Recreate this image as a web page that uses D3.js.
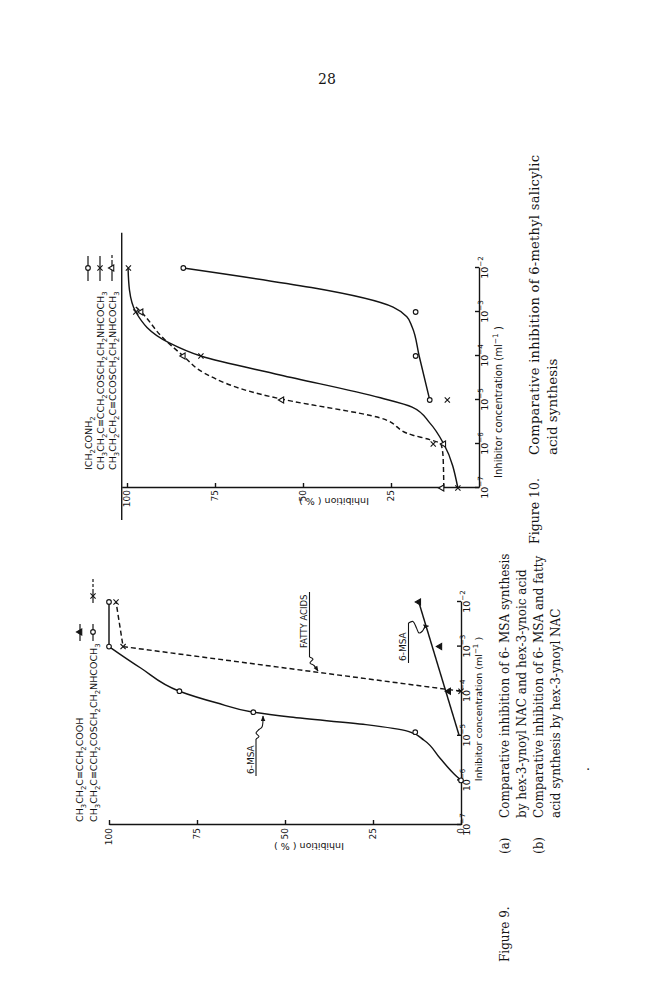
<!DOCTYPE html>
<html><head><meta charset="utf-8">
<script src="https://cdn.jsdelivr.net/npm/d3@7"></script>
<style>
html,body{margin:0;padding:0;background:#fff;}
svg{display:block;}
</style></head><body>
<svg id="page" width="666" height="1000"></svg>
<script>
// ================= DATA =================
// concentration given as log10(mol l^-1); inhibition in %
const decades = [-7, -6, -5, -4, -3, -2];
const inhibTicks9 = [0, 25, 50, 75, 100];
const inhibTicks10 = [25, 50, 75, 100];

// Figure 9
const fig9Legend = ["CH3CH2C≡CCH2COOH", "CH3CH2C≡CCH2COSCH2CH2NHCOCH3"];
const fig9NacMsaPts   = [[-6, 0], [-4.92, 13], [-4.47, 59], [-4, 80], [-3, 100], [-2, 100]];
const fig9NacMsaCurve = [[-6, 0], [-5.83, 2.3], [-5.5, 6], [-5.1, 10.5], [-4.9, 15], [-4.75, 27], [-4.58, 48.5], [-4.47, 59], [-4.26, 69.5], [-4, 80], [-3.48, 91], [-3, 100]];
const fig9NacMsaTop   = [[-3, 100], [-2, 100]];
const fig9FattyPts    = [[-4, 0], [-3, 96], [-2, 98]];
const fig9FattyLine   = [[-4, 0], [-3, 96], [-2, 98]];
const fig9AcidPts     = [[-4, 3.5], [-3, 6], [-2, 12]];
const fig9AcidLine    = [[-5, 0.5], [-2, 12]];

// Figure 10
const fig10Legend = ["ICH2CONH2", "CH3CH2C≡CCH2COSCH2CH2NHCOCH3", "CH3CH2CH2C≡CCOSCH2CH2NHCOCH3"];
const fig10IodoPts    = [[-5, 14], [-4, 18], [-3, 18], [-2, 84]];
const fig10IodoCurve  = [[-5, 14], [-4, 17], [-3.34, 19], [-3.11, 20.5], [-2.89, 24.4], [-2, 84]];
const fig10EsterPts   = [[-7, 6], [-6, 13], [-5, 9], [-4, 79], [-3, 97.5], [-2, 99.6]];
const fig10EsterCurve = [[-7, 6], [-6, 10], [-5.52, 14], [-5.16, 19], [-4.95, 28], [-4.43, 56.5], [-4, 79], [-3.7, 88], [-3, 97.5], [-2.5, 99.3], [-2, 99.7]];
const fig10PropPts    = [[-7, 10.5], [-6, 10], [-5, 56], [-4, 84], [-3, 96]];
const fig10PropCurve  = [[-7, 10], [-6.3, 10.2], [-6, 10.8], [-5.9, 14], [-5.8, 18.8], [-5.41, 28], [-4.98, 56], [-4.87, 62], [-4.39, 78], [-4, 84], [-3.57, 90], [-3, 96], [-2.85, 98]];
const fig10Frame = {level: 101.5, from: -7.73, to: -1.2};

// ================= DRAWING =================
const INK = "#141414";
const SANS = "'DejaVu Sans', sans-serif";
const SERIF = "'DejaVu Serif', serif";
const svg = d3.select("#page");
svg.append("rect").attr("width", 666).attr("height", 1000).attr("fill", "#fff");

svg.append("text").attr("x", 327).attr("y", 84).attr("text-anchor", "middle")
  .attr("font-family", SERIF).attr("font-size", 14).attr("fill", INK).text("28");

// The page is typed in landscape: everything below lives in a frame rotated -90deg.
const G = svg.append("g").attr("transform", "translate(0,1000) rotate(-90)");
const L = (px, py) => [1000 - py, px];   // page position -> rotated-frame position

const defs = svg.append("defs");
defs.append("marker").attr("id", "ah").attr("viewBox", "0 0 10 10").attr("refX", 9).attr("refY", 5)
  .attr("markerWidth", 5).attr("markerHeight", 5).attr("orient", "auto")
  .append("path").attr("d", "M0,1L10,5L0,9Z").attr("fill", INK);

function formula(textSel, str, size) {
  const parts = str.match(/(\d+|[^\d]+)/g);
  let down = false;
  parts.forEach(p => {
    const sub = /^\d+$/.test(p);
    const t = textSel.append("tspan").text(p);
    if (sub) { t.attr("font-size", size * 0.72); if (!down) t.attr("dy", size * 0.32); down = true; }
    else { if (down) t.attr("dy", -size * 0.32); down = false; }
  });
}

function styleAxis(g, fs) {
  g.attr("font-family", SANS).attr("font-size", fs);
  g.selectAll("path,line").attr("stroke", INK).attr("stroke-width", 1.4);
  g.selectAll("text").attr("fill", INK);
}

function expLabels(g, fs) {
  g.selectAll(".tick text").text(null).each(function (d) {
    const t = d3.select(this);
    t.append("tspan").text("10");
    t.append("tspan").attr("font-size", fs * 0.75).attr("dy", -fs * 0.45).text("−" + (-d));
  });
}

function curve(pts, xs, ys, opt = {}) {
  const line = d3.line().x(d => xs(d[0])).y(d => ys(d[1])).curve(opt.curve || d3.curveLinear);
  G.append("path").attr("d", line(pts)).attr("fill", "none").attr("stroke", INK)
    .attr("stroke-width", opt.w || 1.45).attr("stroke-linejoin", "round")
    .attr("stroke-dasharray", opt.dash || null);
}

function markers(pts, xs, ys, kind, filled) {
  const g = G.append("g");
  const sel = g.selectAll("path").data(pts).join("path")
    .attr("transform", d => `translate(${xs(d[0])},${ys(d[1])})`)
    .attr("stroke", INK).attr("stroke-width", 1.1);
  if (kind === "circle") sel.attr("d", d3.symbol(d3.symbolCircle, 17)()).attr("fill", "#fff");
  else if (kind === "x") sel.attr("d", "M-2.6,-2.6L2.6,2.6M-2.6,2.6L2.6,-2.6").attr("fill", "none");
  else sel.attr("d", d3.symbol(d3.symbolTriangle, 16)()).attr("fill", filled ? INK : "#fff");
}

function legendSymbol(px, pyFrom, pyTo, pyMark, kind, filled, dashFrom) {
  const a = L(px, pyFrom), b = L(px, dashFrom !== undefined ? dashFrom : pyTo);
  G.append("line").attr("x1", a[0]).attr("y1", a[1]).attr("x2", b[0]).attr("y2", b[1])
    .attr("stroke", INK).attr("stroke-width", 1.2);
  if (dashFrom !== undefined) {
    const c = L(px, pyTo);
    G.append("line").attr("x1", b[0]).attr("y1", b[1]).attr("x2", c[0]).attr("y2", c[1])
      .attr("stroke", INK).attr("stroke-width", 1.2).attr("stroke-dasharray", "3,2");
  }
  const m = L(px, pyMark);
  const p = G.append("path").attr("transform", `translate(${m[0]},${m[1]})`).attr("stroke", INK).attr("stroke-width", 1.1);
  if (kind === "circle") p.attr("d", d3.symbol(d3.symbolCircle, 17)()).attr("fill", "#fff");
  else if (kind === "x") p.attr("d", "M-2.6,-2.6L2.6,2.6M-2.6,2.6L2.6,-2.6").attr("fill", "none");
  else p.attr("d", d3.symbol(d3.symbolTriangle, 16)()).attr("fill", filled ? INK : "#fff");
}

function textAt(px, py, str, fs, fam, anchor) {
  const p = L(px, py);
  return G.append("text").attr("x", p[0]).attr("y", p[1]).attr("font-family", fam).attr("font-size", fs)
    .attr("fill", INK).attr("text-anchor", anchor || "start").text(str);
}

function flippedTitle(px, py, str, fs) {
  const p = L(px, py);
  G.append("text").attr("transform", `translate(${p[0]},${p[1]}) rotate(-90)`)
    .attr("font-family", SANS).attr("font-size", fs).attr("fill", INK).attr("text-anchor", "middle").text(str);
}

function concTitle(px, py, fs) {
  const t = textAt(px, py, "", fs, SANS, "middle");
  t.append("tspan").text("Inhibitor concentration (ml");
  t.append("tspan").attr("font-size", fs * 0.75).attr("dy", -fs * 0.45).text("−1");
  t.append("tspan").attr("dy", fs * 0.45).text(" )");
}

function pagePath(pts, withArrow) {
  const line = d3.line().curve(d3.curveCatmullRom);
  G.append("path").attr("d", line(pts.map(p => L(p[0], p[1])))).attr("fill", "none")
    .attr("stroke", INK).attr("stroke-width", 1.1).attr("marker-end", withArrow ? "url(#ah)" : null);
}

// ---------- Figure 9 ----------
const x9 = d3.scaleLinear().domain([-7, -2]).range([1000 - 825, 1000 - 602]);
const y9 = d3.scaleLinear().domain([0, 100]).range([461, 109]);

const ax9 = G.append("g").attr("transform", `translate(0,${y9(0)})`)
  .call(d3.axisBottom(x9).tickValues(decades).tickSizeInner(-4).tickSizeOuter(0).tickPadding(2));
styleAxis(ax9, 9.5); expLabels(ax9, 9.5);
const ay9 = G.append("g").attr("transform", `translate(${x9(-7)},0)`)
  .call(d3.axisLeft(y9).tickValues(inhibTicks9).tickSizeInner(-5).tickSizeOuter(0).tickPadding(3));
styleAxis(ay9, 9);

curve(fig9NacMsaCurve, x9, y9, {curve: d3.curveMonotoneX});
curve(fig9NacMsaTop, x9, y9);
curve(fig9FattyLine, x9, y9, {dash: "5,3"});
curve(fig9AcidLine, x9, y9);
markers(fig9NacMsaPts, x9, y9, "circle");
markers(fig9FattyPts, x9, y9, "x");
markers(fig9AcidPts, x9, y9, "tri", true);

concTitle(482, 709, 9.5);
flippedTitle(309, 843, "Inhibition ( % )", 9.5);

// legend
fig9Legend.forEach((s, i) => formula(textAt(83 + i * 13.5, 822, "", 9.5, SANS), s, 9.5));
legendSymbol(80, 641, 624, 632, "tri", true);
legendSymbol(93, 641, 624, 632, "circle");
legendSymbol(93, 603, 577, 596, "x", false, 592);

// annotations
textAt(254, 774, "6-MSA", 9, SANS);
G.append("line").attr("x1", L(0, 776)[0]).attr("x2", L(0, 739)[0]).attr("y1", 256).attr("y2", 256).attr("stroke", INK).attr("stroke-width", 1.1);
pagePath([[256, 739], [259, 736.5], [256, 733], [259, 729.5], [262, 727], [263, 716]], true);

textAt(307, 648, "FATTY ACIDS", 8.5, SANS);
G.append("line").attr("x1", L(0, 657)[0]).attr("x2", L(0, 592)[0]).attr("y1", 309.5).attr("y2", 309.5).attr("stroke", INK).attr("stroke-width", 1.1);
pagePath([[309.5, 657], [313, 659], [310, 663], [314, 665.5], [318, 671]], true);

textAt(406, 661, "6-MSA", 9, SANS);
G.append("line").attr("x1", L(0, 663)[0]).attr("x2", L(0, 623)[0]).attr("y1", 408.5).attr("y2", 408.5).attr("stroke", INK).attr("stroke-width", 1.1);
pagePath([[408.5, 623], [413, 621.5], [416.5, 628], [419, 633], [422.5, 631], [425, 627], [428.5, 626]], true);

// caption
textAt(509, 962, "Figure 9.", 12, SERIF);
textAt(509, 854, "(a)", 12, SERIF);
textAt(509, 818, "Comparative inhibition of 6- MSA synthesis", 12, SERIF);
textAt(526, 818, "by hex-3-ynoyl NAC and hex-3-ynoic acid", 12, SERIF);
textAt(543, 854, "(b)", 12, SERIF);
textAt(543, 818, "Comparative inhibition of 6- MSA and fatty", 12, SERIF);
textAt(560, 818, "acid synthesis by hex-3-ynoyl NAC", 12, SERIF);
textAt(589, 771, ".", 12, SERIF);

// ---------- Figure 10 ----------
const x10 = d3.scaleLinear().domain([-7, -2]).range([1000 - 488, 1000 - 268]);
const y10 = d3.scaleLinear().domain([0, fig10Frame.level]).range([479, 479 - fig10Frame.level * 3.52]);

const ax10 = G.append("g").attr("transform", `translate(0,${y10(0)})`)
  .call(d3.axisBottom(x10).tickValues(decades).tickSizeInner(-4).tickSizeOuter(0).tickPadding(2));
styleAxis(ax10, 9.5); expLabels(ax10, 9.5);
const ay10 = G.append("g").attr("transform", `translate(${x10(-7)},0)`)
  .call(d3.axisLeft(y10).tickValues(inhibTicks10).tickSizeInner(-5).tickSizeOuter(0).tickPadding(2));
styleAxis(ay10, 9);
G.append("line").attr("x1", x10(fig10Frame.from)).attr("x2", x10(fig10Frame.to))
  .attr("y1", y10(fig10Frame.level)).attr("y2", y10(fig10Frame.level)).attr("stroke", INK).attr("stroke-width", 1.4);

curve(fig10IodoCurve, x10, y10, {curve: d3.curveMonotoneX});
curve(fig10EsterCurve, x10, y10, {curve: d3.curveMonotoneX});
curve(fig10PropCurve, x10, y10, {curve: d3.curveMonotoneX, dash: "5,3"});
markers(fig10IodoPts, x10, y10, "circle");
markers(fig10EsterPts, x10, y10, "x");
markers(fig10PropPts, x10, y10, "tri", false);

concTitle(502, 402, 10);
flippedTitle(334, 498, "Inhibition ( % )", 9.5);

fig10Legend.forEach((s, i) => formula(textAt(91.5 + i * 12, 470, "", 9.5, SANS), s, 9.5));
legendSymbol(88, 281, 256, 268, "circle");
legendSymbol(100, 281, 256, 268, "x");
legendSymbol(112, 281, 254, 268, "tri", false, 263);

textAt(539, 544, "Figure 10.", 12.5, SERIF);
textAt(539, 455, "Comparative inhibition of 6-methyl salicylic", 13, SERIF)
  .attr("textLength", 300).attr("lengthAdjust", "spacing");
textAt(557, 455, "acid synthesis", 13.5, SERIF);
</script>
</body></html>
